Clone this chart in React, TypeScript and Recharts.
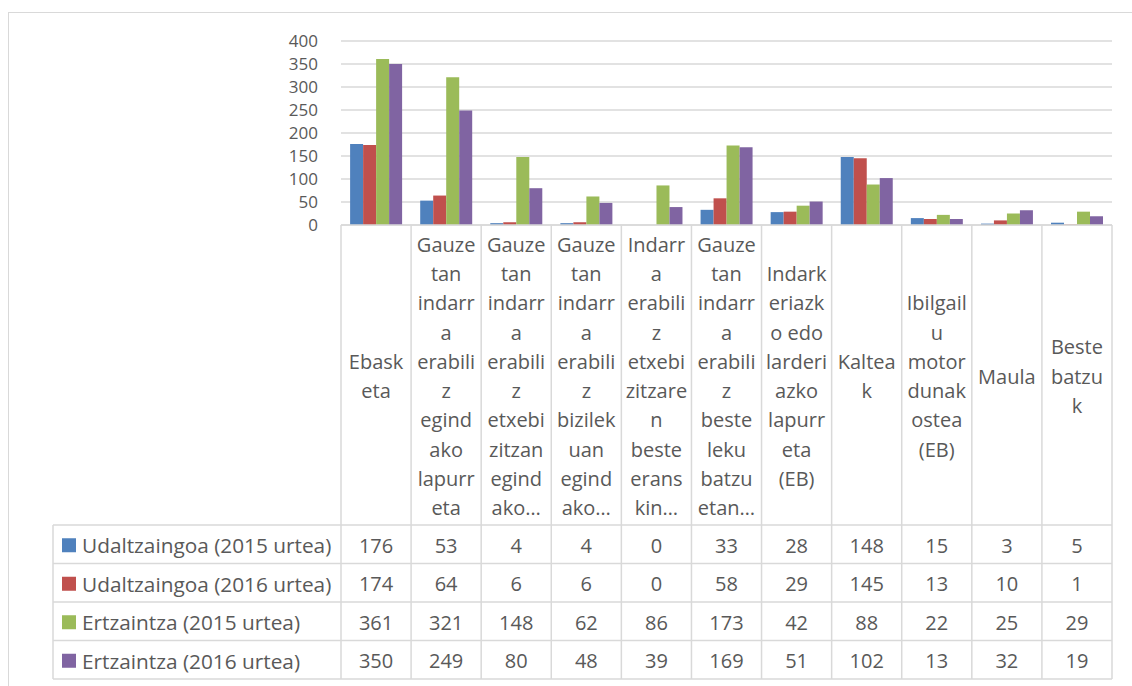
import React from 'react';
import { BarChart, Bar, XAxis, YAxis, CartesianGrid } from 'recharts';

// categories (full names) and how they wrap in the table header
const categories = [
  'Ebasketa',
  'Gauzetan indarra erabiliz egindako lapurreta',
  'Gauzetan indarra erabiliz etxebizitzan egindako lapurreta',
  'Gauzetan indarra erabiliz bizilekuan egindako lapurreta',
  'Indarra erabiliz etxebizitzaren beste eranskinetan',
  'Gauzetan indarra erabiliz beste leku batzuetan',
  'Indarkeriazko edo larderiazko lapurreta (EB)',
  'Kalteak',
  'Ibilgailu motordunak ostea (EB)',
  'Maula',
  'Beste batzuk',
];

const categoryLines = [
  ['Ebask', 'eta'],
  ['Gauze', 'tan', 'indarr', 'a', 'erabili', 'z', 'egind', 'ako', 'lapurr', 'eta'],
  ['Gauze', 'tan', 'indarr', 'a', 'erabili', 'z', 'etxebi', 'zitzan', 'egind', 'ako…'],
  ['Gauze', 'tan', 'indarr', 'a', 'erabili', 'z', 'bizilek', 'uan', 'egind', 'ako…'],
  ['Indarr', 'a', 'erabili', 'z', 'etxebi', 'zitzare', 'n', 'beste', 'erans', 'kin…'],
  ['Gauze', 'tan', 'indarr', 'a', 'erabili', 'z', 'beste', 'leku', 'batzu', 'etan…'],
  ['Indark', 'eriazk', 'o edo', 'larderi', 'azko', 'lapurr', 'eta', '(EB)'],
  ['Kaltea', 'k'],
  ['Ibilgail', 'u', 'motor', 'dunak', 'ostea', '(EB)'],
  ['Maula'],
  ['Beste', 'batzu', 'k'],
];

const seriesNames = [
  'Udaltzaingoa (2015 urtea)',
  'Udaltzaingoa (2016 urtea)',
  'Ertzaintza (2015 urtea)',
  'Ertzaintza (2016 urtea)',
];
const seriesKeys = ['udal2015', 'udal2016', 'ertz2015', 'ertz2016'];
const seriesColors = ['#4F81BD', '#C0504D', '#9BBB59', '#8064A2'];

const udal2015 = [176, 53, 4, 4, 0, 33, 28, 148, 15, 3, 5];
const udal2016 = [174, 64, 6, 6, 0, 58, 29, 145, 13, 10, 1];
const ertz2015 = [361, 321, 148, 62, 86, 173, 42, 88, 22, 25, 29];
const ertz2016 = [350, 249, 80, 48, 39, 169, 51, 102, 13, 32, 19];
const seriesValues = [udal2015, udal2016, ertz2015, ertz2016];

const yTicks = [0, 50, 100, 150, 200, 250, 300, 350, 400];

const data = categories.map((name, i) => ({
  name,
  udal2015: udal2015[i],
  udal2016: udal2016[i],
  ertz2015: ertz2015[i],
  ertz2016: ertz2016[i],
}));

// layout
const W = 1132;
const H = 686;
const PLOT_LEFT = 341;
const PLOT_RIGHT = 1112;
const PLOT_TOP = 41;
const PLOT_BOTTOM = 225;
const TABLE_LEFT = 53;
const HEADER_BOTTOM = 525;
const ROW_H = 38.5;
const LINE_H = 29.3;
const Y_AXIS_W = 60;
const X_AXIS_H = 30;
const COL_W = (PLOT_RIGHT - PLOT_LEFT) / categories.length;

const GRID = '#d9d9d9';
const TEXT = '#595959';
const FONT = "'Open Sans', sans-serif";

function TableTick(props: any) {
  const { x, payload } = props;
  const idx: number = payload?.index ?? props.index ?? 0;
  const lines = categoryLines[idx] || [];
  const headerMid = (PLOT_BOTTOM + HEADER_BOTTOM) / 2 + 1;
  const tableBottom = HEADER_BOTTOM + ROW_H * seriesNames.length;

  return (
    <g>
      <line x1={x - COL_W / 2} x2={x - COL_W / 2} y1={PLOT_BOTTOM} y2={tableBottom} stroke={GRID} strokeWidth={1.5} />
      {idx === categories.length - 1 && (
        <line x1={x + COL_W / 2} x2={x + COL_W / 2} y1={PLOT_BOTTOM} y2={tableBottom} stroke={GRID} strokeWidth={1.5} />
      )}
      {lines.map((t, i) => (
        <text
          key={i}
          x={x}
          y={headerMid + (i - (lines.length - 1) / 2) * LINE_H}
          textAnchor="middle"
          dominantBaseline="central"
          fill={TEXT}
          fontSize={20}
          fontFamily={FONT}
        >
          {t}
        </text>
      ))}
      {seriesValues.map((vals, r) => (
        <text
          key={'v' + r}
          x={x}
          y={HEADER_BOTTOM + ROW_H * r + ROW_H / 2 + 1}
          textAnchor="middle"
          dominantBaseline="central"
          fill={TEXT}
          fontSize={20}
          fontFamily={FONT}
        >
          {vals[idx]}
        </text>
      ))}
      {idx === 0 && (
        <g>
          <line x1={TABLE_LEFT} x2={TABLE_LEFT} y1={HEADER_BOTTOM} y2={tableBottom} stroke={GRID} strokeWidth={1.5} />
          {[0, 1, 2, 3, 4].map(r => (
            <line
              key={'h' + r}
              x1={TABLE_LEFT}
              x2={PLOT_RIGHT}
              y1={HEADER_BOTTOM + ROW_H * r}
              y2={HEADER_BOTTOM + ROW_H * r}
              stroke={GRID}
              strokeWidth={1.5}
            />
          ))}
          {seriesNames.map((n, r) => {
            const cy = HEADER_BOTTOM + ROW_H * r + ROW_H / 2;
            return (
              <g key={'l' + r}>
                <rect x={62} y={cy - 6} width={14} height={14} fill={seriesColors[r]} />
                <text x={82} y={cy + 1} dominantBaseline="central" fill={TEXT} fontSize={20.8} fontFamily={FONT}>
                  {n}
                </text>
              </g>
            );
          })}
        </g>
      )}
    </g>
  );
}

export default function App() {
  return (
    <div style={{ position: 'relative', width: W, height: H, background: '#fff' }}>
      <style>{'body{margin:0;overflow:hidden}'}</style>
      <div
        style={{
          position: 'absolute',
          left: 8,
          top: 12,
          width: 1400,
          height: 900,
          borderTop: `1.5px solid ${GRID}`,
          borderLeft: `1.5px solid ${GRID}`,
        }}
      />
      <div style={{ position: 'absolute', left: 0, top: 0 }}>
        <BarChart
          width={W}
          height={H}
          data={data}
          margin={{
            top: PLOT_TOP,
            right: W - PLOT_RIGHT,
            left: PLOT_LEFT - Y_AXIS_W,
            bottom: H - PLOT_BOTTOM - X_AXIS_H
          }}
          barCategoryGap="13%"
          barGap={0}
          style={{ fontFamily: FONT }}
        >
          <CartesianGrid vertical={false} stroke={GRID} strokeWidth={1.5} />
          <XAxis
            dataKey="name"
            height={X_AXIS_H}
            interval={0}
            tickLine={false}
            axisLine={{ stroke: GRID, strokeWidth: 1.5 }}
            tick={<TableTick />}
          />
          <YAxis
            width={Y_AXIS_W}
            domain={[0, 400]}
            ticks={yTicks}
            interval={0}
            axisLine={false}
            tickLine={false}
            tickMargin={17}
            tick={{ fill: TEXT, fontSize: 17, fontFamily: FONT }}
          />
          {seriesKeys.map((k, i) => (
            <Bar key={k} dataKey={k} name={seriesNames[i]} fill={seriesColors[i]} isAnimationActive={false} />
          ))}
        </BarChart>
      </div>
    </div>
  );
}
